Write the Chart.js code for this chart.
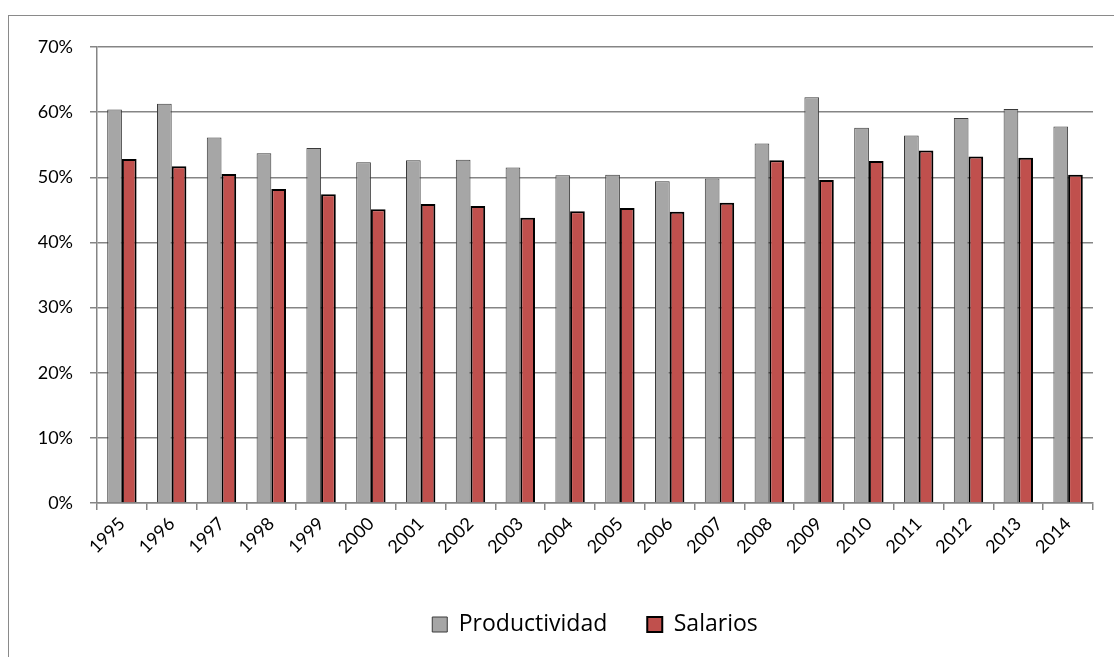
<!DOCTYPE html>
<html>
<head>
<meta charset="utf-8">
<script src="https://cdn.jsdelivr.net/npm/chart.js@4.4.0/dist/chart.umd.min.js"></script>
<style>
    html, body { margin: 0; padding: 0; background: #fff; overflow: hidden; }
    #wrap { position: relative; width: 1114px; height: 657px; }
    /* marco exterior del gráfico, recortado a la derecha y abajo */
    #marco { position: absolute; left: 8px; top: 15px; width: 1140px; height: 680px;
             border: 1px solid #8a8a8a; box-sizing: border-box; }
    #grafico { position: absolute; left: 0; top: 0; }
</style>
</head>
<body>
<div id="wrap">
    <div id="marco"></div>
    <canvas id="grafico" width="1114" height="657"></canvas>
</div>
<script>
// Años del periodo
const anios = ['1995', '1996', '1997', '1998', '1999', '2000', '2001', '2002', '2003', '2004',
               '2005', '2006', '2007', '2008', '2009', '2010', '2011', '2012', '2013', '2014'];

// Valores en porcentaje
const productividad = [60.4, 61.3, 56.1, 53.7, 54.5, 52.3, 52.6, 52.7, 51.5, 50.3,
                       50.4, 49.4, 49.8, 55.2, 62.3, 57.6, 56.4, 59.1, 60.5, 57.8];
const salarios = [52.8, 51.7, 50.5, 48.2, 47.4, 45.1, 45.9, 45.6, 43.8, 44.8,
                  45.3, 44.7, 46.1, 52.6, 49.6, 52.5, 54.1, 53.2, 53.0, 50.4];

const FUENTE = 'Lato, "Open Sans", sans-serif';

const ctx = document.getElementById('grafico').getContext('2d');

const chart = new Chart(ctx, {
    type: 'bar',
    data: {
        labels: anios,
        datasets: [
            {
                label: 'Productividad',
                data: productividad,
                backgroundColor: '#a6a6a6',
                borderColor: '#3a3a3a',
                borderWidth: 1,
                categoryPercentage: 0.59,
                barPercentage: 1.0
            },
            {
                label: 'Salarios',
                data: salarios,
                backgroundColor: '#c0504d',
                borderColor: '#000000',
                borderWidth: 2,
                categoryPercentage: 0.59,
                barPercentage: 1.0
            }
        ]
    },
    options: {
        responsive: false,
        animation: false,
        layout: {
            padding: { top: 47, right: 21, left: 0, bottom: 11 }
        },
        scales: {
            y: {
                min: 0,
                max: 70,
                afterFit: scale => { scale.width = 97; },
                ticks: {
                    stepSize: 10,
                    padding: 17,
                    color: '#000',
                    font: { family: FUENTE, size: 18 },
                    callback: v => v + '%'
                },
                grid: {
                    color: '#858585',
                    lineWidth: 1.5,
                    tickLength: 7
                },
                border: { color: '#858585', width: 1.5 }
            },
            x: {
                afterFit: scale => { scale.height = 70; },
                ticks: {
                    autoSkip: false,
                    maxRotation: 45,
                    minRotation: 45,
                    padding: 3,
                    color: '#000',
                    font: { family: FUENTE, size: 18 }
                },
                grid: {
                    offset: true,
                    drawOnChartArea: false,
                    color: '#858585',
                    lineWidth: 1.5,
                    tickLength: 7
                },
                border: { color: '#858585', width: 1.5 }
            }
        },
        plugins: {
            legend: {
                position: 'bottom',
                fullSize: false,
                labels: {
                    boxWidth: 15,
                    boxHeight: 15,
                    padding: 40,
                    color: '#000',
                    font: { family: '"Open Sans", Lato, sans-serif', size: 23 }
                }
            },
            tooltip: { enabled: false }
        }
    }
});
</script>
</body>
</html>
